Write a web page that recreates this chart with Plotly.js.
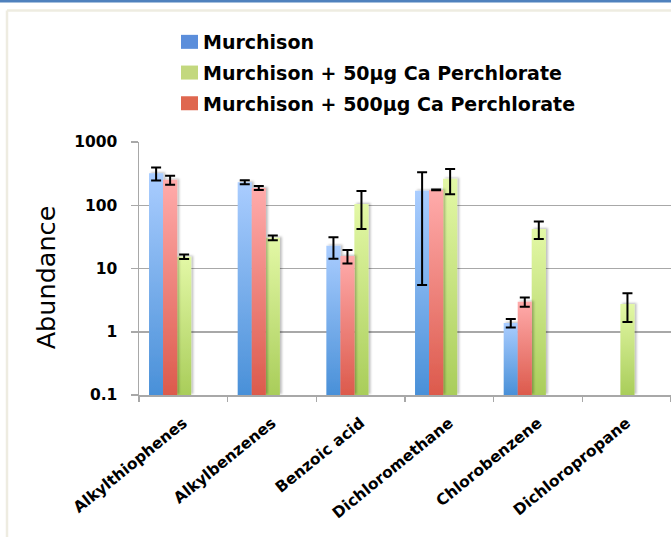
<!DOCTYPE html>
<html>
<head>
<meta charset="utf-8">
<script src="https://cdn.plot.ly/plotly-3.0.1.min.js"></script>
<style>
  html, body { margin: 0; padding: 0; background: #ffffff; }
  #chart { width: 671px; height: 537px; }
</style>
</head>
<body>
<div id="chart"></div>
<script>
// Compounds detected, and abundances (with ± errors) for each sample
const categories = ['Alkylthiophenes', 'Alkylbenzenes', 'Benzoic acid',
                    'Dichloromethane', 'Chlorobenzene', 'Dichloropropane'];

const seriesNames = ['Murchison',
                     'Murchison + 50\u03bcg Ca Perchlorate',
                     'Murchison + 500\u03bcg Ca Perchlorate'];

const murchison      = [322, 232, 22.8, 169, 1.38, null];
const murchisonErr   = [75, 17, 8.5, 163.5, 0.21, null];

const perc50         = [15.4, 30.5, 105, 262, 42.3, 2.75];
const perc50Err      = [1.3, 2.6, 63, 113, 13, 1.32];

const perc500        = [252, 188, 15.8, 175, 2.99, null];
const perc500Err     = [42, 13, 3.8, 3, 0.5, null];

const yTickVals  = [0.1, 1, 10, 100, 1000];
const yTickText  = ['0.1', '1', '10', '100', '1000'];

// ---- styling ----
const W = 671, H = 537;
const M = { l: 139, r: 0, t: 142, b: 142 };
const plotW = W - M.l - M.r, plotH = H - M.t - M.b;
const px2x = p => (p - M.l) / plotW;
const px2y = p => (H - M.b - p) / plotH;

const FONT = 'DejaVu Sans';
const solid = { blue: '#5b8edb', green: '#c3d87e', red: '#df674f' };
const grad = {
  blue:  ['#aacdff', '#4990d8'],
  green: ['#e3f8a6', '#a9cd5a'],
  red:   ['#ffabab', '#dc5a4c']
};
const gridGray = '#a8a8a8';

const barW = 0.16;
function barTrace(name, y, err, color, offset, group) {
  return {
    type: 'bar',
    name: name,
    x: categories,
    y: y,
    width: barW,
    offset: offset,
    legendgroup: group,
    marker: { color: color, line: { width: 0 } },
    error_y: { type: 'data', array: err, visible: true,
               color: '#000000', thickness: 2, width: 5 }
  };
}

const data = [
  barTrace(seriesNames[0], murchison, murchisonErr, solid.blue,  -0.387, 'g1'),
  barTrace(seriesNames[1], perc50,    perc50Err,    solid.green, -0.071, 'g2'),
  barTrace(seriesNames[2], perc500,   perc500Err,   solid.red,   -0.229, 'g3')
];

const layout = {
  width: W, height: H,
  margin: { l: M.l, r: M.r, t: M.t, b: M.b, pad: 0 },
  paper_bgcolor: '#ffffff',
  plot_bgcolor: 'rgba(0,0,0,0)',
  barmode: 'overlay',
  font: { family: FONT, color: '#000000' },
  showlegend: true,
  legend: {
    x: px2x(163), xanchor: 'left',
    y: px2y(23), yanchor: 'top',
    bgcolor: 'rgba(0,0,0,0)',
    font: { family: FONT, size: 19, weight: 'bold', color: '#000000' },
    tracegroupgap: 3,
    itemclick: false
  },
  xaxis: {
    type: 'category',
    categoryorder: 'array',
    categoryarray: categories,
    range: [-0.5, categories.length - 0.5],
    tickson: 'boundaries',
    ticks: 'outside', ticklen: 5, tickwidth: 1.5, tickcolor: gridGray,
    showline: true, linecolor: gridGray, linewidth: 2,
    showgrid: false,
    tickangle: -39,
    ticklabelstandoff: 11,
    tickfont: { family: FONT, size: 15.5, weight: 'bold', color: '#000000' },
    fixedrange: true
  },
  yaxis: {
    type: 'log',
    range: [-1, 3],
    tickmode: 'array', tickvals: yTickVals, ticktext: yTickText,
    ticks: 'outside', ticklen: 7, tickwidth: 1.5, tickcolor: gridGray,
    showline: true, linecolor: gridGray, linewidth: 1.5,
    showgrid: true, gridcolor: gridGray, gridwidth: 1.5,
    zeroline: false,
    ticklabelstandoff: 10,
    tickfont: { family: FONT, size: 15.5, weight: 'bold', color: '#000000' },
    title: { text: 'Abundance', standoff: 11,
             font: { family: FONT, size: 25.5, color: '#000000' } },
    fixedrange: true
  },
  shapes: [
    // slide header rule
    { type: 'rect', xref: 'paper', yref: 'paper', layer: 'above',
      x0: px2x(0), x1: px2x(W), y0: px2y(0), y1: px2y(2.5),
      fillcolor: '#4f81bd', line: { width: 0 } },
    // frame around the chart box
    { type: 'line', xref: 'paper', yref: 'paper', layer: 'above',
      x0: px2x(7), x1: px2x(W), y0: px2y(10.5), y1: px2y(10.5),
      line: { color: '#eeece1', width: 2.5 } },
    { type: 'line', xref: 'paper', yref: 'paper', layer: 'above',
      x0: px2x(7), x1: px2x(7), y0: px2y(10.5), y1: px2y(H),
      line: { color: '#eeece1', width: 2.5 } },
    // blank patch over the gridlines beside Chlorobenzene
    { type: 'rect', xref: 'paper', yref: 'paper', layer: 'between',
      x0: px2x(547.5), x1: px2x(583), y0: px2y(393), y1: px2y(235),
      fillcolor: '#ffffff', line: { width: 0 } }
  ]
};

function addDefs(gd) {
  const svgNS = 'http://www.w3.org/2000/svg';
  const svg = gd.querySelector('.main-svg');
  let defs = svg.querySelector('defs');
  if (!defs) { defs = document.createElementNS(svgNS, 'defs'); svg.insertBefore(defs, svg.firstChild); }
  Object.keys(grad).forEach(k => {
    const lg = document.createElementNS(svgNS, 'linearGradient');
    lg.setAttribute('id', 'barfill-' + k);
    lg.setAttribute('x1', '0'); lg.setAttribute('y1', '0');
    lg.setAttribute('x2', '0'); lg.setAttribute('y2', '1');
    [[0, grad[k][0]], [1, grad[k][1]]].forEach(([o, c]) => {
      const st = document.createElementNS(svgNS, 'stop');
      st.setAttribute('offset', String(o));
      st.setAttribute('stop-color', c);
      lg.appendChild(st);
    });
    defs.appendChild(lg);
  });
  const f = document.createElementNS(svgNS, 'filter');
  f.setAttribute('id', 'barshadow');
  f.setAttribute('x', '-50%'); f.setAttribute('y', '-5%');
  f.setAttribute('width', '200%'); f.setAttribute('height', '110%');
  const ds = document.createElementNS(svgNS, 'feDropShadow');
  ds.setAttribute('dx', '2'); ds.setAttribute('dy', '-1');
  ds.setAttribute('stdDeviation', '1.2');
  ds.setAttribute('flood-color', '#000000');
  ds.setAttribute('flood-opacity', '0.25');
  f.appendChild(ds);
  defs.appendChild(f);
}

// bars on a log axis run far below the frame; trim them to the plot
// area so each bar's gradient spans only its visible height
function trimBar(p) {
  const d = p.getAttribute('d') || '';
  const m = d.match(/^M([-\d.e+]+),([-\d.e+]+)V([-\d.e+]+)H([-\d.e+]+)V([-\d.e+]+)Z$/);
  if (!m) return;
  const clamp = v => Math.max(0, Math.min(plotH, parseFloat(v)));
  p.setAttribute('d', 'M' + m[1] + ',' + clamp(m[2]) + 'V' + clamp(m[3]) +
                      'H' + m[4] + 'V' + clamp(m[5]) + 'Z');
}

function styleBars(gd) {
  const keys = ['blue', 'green', 'red'];
  gd.querySelectorAll('.barlayer .trace').forEach((tr, i) => {
    tr.querySelectorAll('.point path').forEach(p => {
      trimBar(p);
      p.style.fill = 'url(#barfill-' + keys[i] + ')';
      p.setAttribute('filter', 'url(#barshadow)');
    });
  });
  // wider legend swatches set just left of each label
  gd.querySelectorAll('.legend .traces').forEach(tr => {
    const sym = tr.querySelector('.legendpoints path');
    const txt = tr.querySelector('.legendtext');
    if (!sym || !txt) return;
    const sb = sym.getBoundingClientRect();
    const tb = txt.getBoundingClientRect();
    const cx = (sb.left + sb.right) / 2;
    const want = tb.left - 5 - 8.5;
    const dx = want - cx;
    sym.setAttribute('d', 'M' + (dx - 8.5) + ',-7h17v14h-17Z');
  });
  // axis title sits a little below the plot's mid-height
  const yt = gd.querySelector('.g-ytitle');
  if (yt) yt.setAttribute('transform', 'translate(0,9)');
}

const gd = document.getElementById('chart');
Plotly.newPlot(gd, data, layout, { staticPlot: true, displayModeBar: false })
  .then(g => { addDefs(g); styleBars(g); });
</script>
</body>
</html>
